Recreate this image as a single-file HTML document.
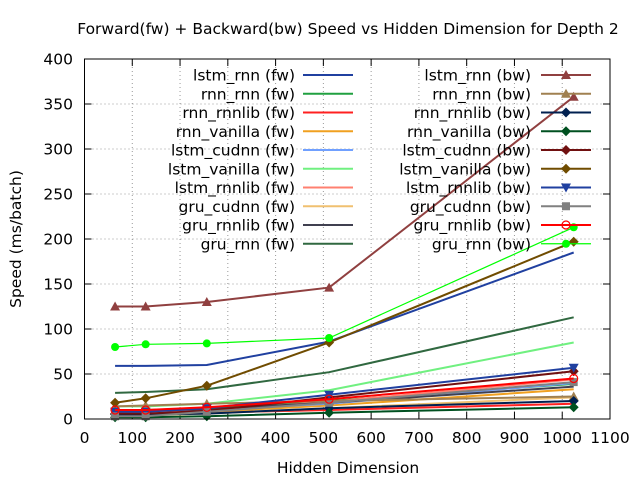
<!DOCTYPE html>
<html><head><meta charset="utf-8"><style>
html,body{margin:0;padding:0;background:#fff}
svg{display:block;font-family:"DejaVu Sans","Liberation Sans",sans-serif}
</style></head><body>
<svg id="c" width="640" height="480" xmlns="http://www.w3.org/2000/svg">
<text x="348" y="34" text-anchor="middle" font-size="15.5">Forward(fw) + Backward(bw) Speed vs Hidden Dimension for Depth 2</text>
<text x="348" y="473" text-anchor="middle" font-size="15.5">Hidden Dimension</text>
<text transform="translate(21,239) rotate(-90)" text-anchor="middle" font-size="15.5">Speed (ms/batch)</text>
<g id="grid"></g><g id="series"></g><g id="legend"></g>
<rect x="84.5" y="59" width="525.5" height="360" fill="none" stroke="#000" stroke-width="1"/>
</svg>
<script>
const xCats=[64,128,256,512,1024];
const xTicks=[0,100,200,300,400,500,600,700,800,900,1000,1100];
const yTicks=[0,50,100,150,200,250,300,350,400];
const names=["lstm_rnn (fw)","rnn_rnn (fw)","rnn_rnnlib (fw)","rnn_vanilla (fw)","lstm_cudnn (fw)","lstm_vanilla (fw)","lstm_rnnlib (fw)","gru_cudnn (fw)","gru_rnnlib (fw)","gru_rnn (fw)",
"lstm_rnn (bw)","rnn_rnn (bw)","rnn_rnnlib (bw)","rnn_vanilla (bw)","lstm_cudnn (bw)","lstm_vanilla (bw)","lstm_rnnlib (bw)","gru_cudnn (bw)","gru_rnnlib (bw)","gru_rnn (bw)"];
const s0=[59,59,60,86,185];
const s1=[10,10,12,20,39];
const s2=[6,6,7,10,17];
const s3=[5,5,8,15,33];
const s4=[8,8,10,17,40];
const s5=[14,14,17,32,85];
const s6=[7,7,10,19,44];
const s7=[4,4,6,12,24];
const s8=[9,9,11,18,36];
const s9=[29,30,33,52,113];
const s10=[125,125,130,146,358];
const s11=[14,15,17,20,25];
const s12=[5,5,6,12,20];
const s13=[2,2,3,7,13];
const s14=[6,6,9,24,53];
const s15=[18,23,37,85,197];
const s16=[8,8,12,27,57];
const s17=[3,3,8,18,41];
const s18=[10,10,13,22,45];
const s19=[80,83,84,90,213];
const values=[s0,s1,s2,s3,s4,s5,s6,s7,s8,s9,s10,s11,s12,s13,s14,s15,s16,s17,s18,s19];
const colors=["#2040a0","#20a040","#ff2020","#f0a020","#70a0ff","#70f080","#ff8070","#f0c070","#404050","#306840",
"#904040","#a08050","#002050","#005020","#701010","#704c00","#2040a0","#808080","#ff0000","#00ff00"];
const markers=["","","","","","","","","","","tri","tri","dia","dia","dia","dia","tridown","sq","ocirc","circ"];
const X=v=>84.5+v*525.5/1100, Y=v=>419-v*0.9;
const NS="http://www.w3.org/2000/svg";
function mk(t,a,p){const e=document.createElementNS(NS,t);for(const k in a)e.setAttribute(k,a[k]);p.appendChild(e);return e;}
const grid=document.getElementById('grid');
xTicks.forEach(t=>{const x=X(t);
 if(t>0&&t<1100){const g=mk('line',{x1:x,x2:x,y1:59,y2:419,stroke:'#999','stroke-dasharray':'1,3'},grid);
 
 }
 mk('line',{x1:x,x2:x,y1:419,y2:412,stroke:'#000'},grid);mk('line',{x1:x,x2:x,y1:59,y2:66,stroke:'#000'},grid);
 const l=mk('text',{x:x,y:443,'text-anchor':'middle','font-size':15.5},grid);l.textContent=t;
 
 });
yTicks.forEach(t=>{const y=Y(t);
 if(t>0&&t<400){const g=mk('line',{x1:84.5,x2:610,y1:y,y2:y,stroke:'#999','stroke-dasharray':'1,3'},grid);
 
 }
 mk('line',{x1:84.5,x2:91.5,y1:y,y2:y,stroke:'#000'},grid);mk('line',{x1:603,x2:610,y1:y,y2:y,stroke:'#000'},grid);
 const l=mk('text',{x:73,y:y+5.5,'text-anchor':'end','font-size':15.5},grid);l.textContent=t;
 
 });
function marker(kind,x,y,c,p){
 if(kind==='tri')return mk('path',{d:`M${x},${y-5}L${x+5},${y+4}L${x-5},${y+4}Z`,fill:c},p);
 if(kind==='tridown')return mk('path',{d:`M${x},${y+5}L${x+5},${y-4}L${x-5},${y-4}Z`,fill:c},p);
 if(kind==='dia')return mk('path',{d:`M${x},${y-5}L${x+5},${y}L${x},${y+5}L${x-5},${y}Z`,fill:c},p);
 if(kind==='sq')return mk('rect',{x:x-4,y:y-4,width:8,height:8,fill:c},p);
 if(kind==='ocirc')return mk('circle',{cx:x,cy:y,r:4,fill:'none',stroke:c,'stroke-width':1.2},p);
 if(kind==='circ')return mk('circle',{cx:x,cy:y,r:4,fill:c},p);
}
const sg=document.getElementById('series'), lg=document.getElementById('legend');
values.forEach((vals,i)=>{
 const g=mk('g',{},sg);
 
 
 const w=i===19?1.2:2;
 mk('polyline',{points:vals.map((v,j)=>X(xCats[j])+','+Y(v)).join(' '),fill:'none',stroke:colors[i],'stroke-width':w},g);
 if(markers[i])vals.forEach((v,j)=>{const m=marker(markers[i],X(xCats[j]),Y(v),colors[i],g);
  
  });
 const col=i<10?0:1,row=i%10,ly=75+row*18.75;
 const tx=col?531:295, sx=col?541:303;
 const e=mk('g',{},lg);
 
 
 const t=mk('text',{x:tx,y:ly+5.5,'text-anchor':'end','font-size':15.5},e);t.textContent=names[i];
 mk('line',{x1:sx,x2:sx+50,y1:ly,y2:ly,stroke:colors[i],'stroke-width':w},e);
 if(markers[i])marker(markers[i],sx+25,ly,colors[i],e);
});
</script>
</body></html>
